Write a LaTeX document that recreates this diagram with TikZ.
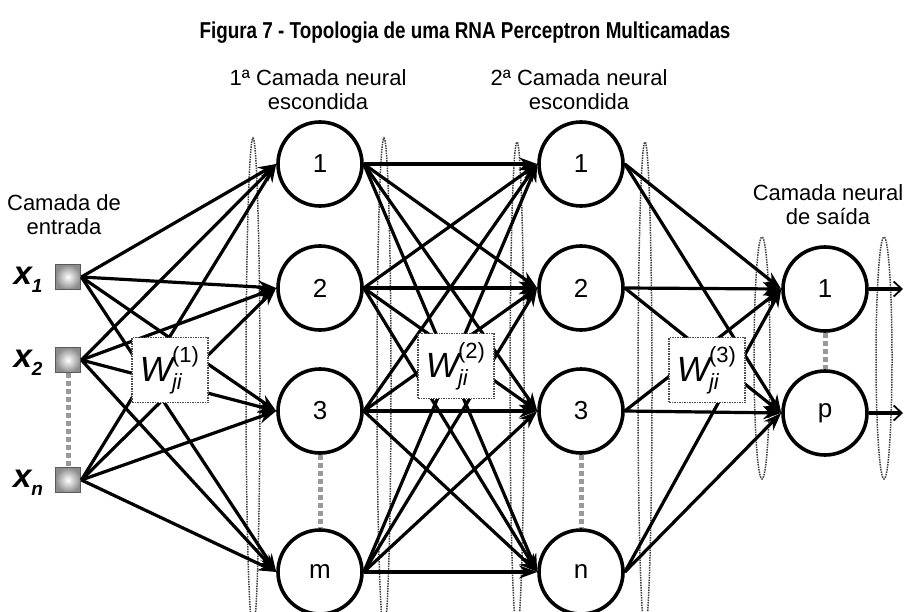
\documentclass[tikz,border=0pt]{standalone}
\usepackage{fontspec}
\setmainfont{Liberation Sans}
\usetikzlibrary{arrows.meta}
\newcommand{\wlab}[1]{\fontsize{35}{35}\selectfont\itshape W\kern-1pt\makebox[28pt][l]{\rlap{\raisebox{19pt}{\fontsize{22}{22}\selectfont\upshape(#1)}}\raisebox{-8pt}{\fontsize{22}{22}\selectfont\itshape ji}}}
\newcommand{\xlab}[1]{x\raisebox{-8pt}{\fontsize{19}{19}\selectfont #1}}
\begin{document}
\begin{tikzpicture}[x=1pt,y=-1pt]
\tikzset{
 neuron/.style={circle, draw=black, line width=3.6pt, minimum size=84pt, inner sep=0pt, fill=white, font=\fontsize{26}{26}\selectfont},
 inp/.style={rectangle, draw=black!65, line width=1.8pt, minimum size=25pt, inner sep=0pt, inner color=white, outer color=black!45},
 conn/.style={line width=3.2pt, -{Stealth[length=18pt,width=13pt]}},
 outarrow/.style={line width=3.2pt, -{Straight Barb[length=8pt,width=15pt,line width=1.8pt]}},
 wbox/.style={draw=black!70, densely dotted, line width=1.5pt, fill=white, minimum width=76pt, minimum height=65pt, inner sep=0pt},
 layerell/.style={draw=black!75, densely dotted, line width=1.5pt},
 gapline/.style={draw=black!40, line width=5pt, dash pattern=on 5pt off 3pt},
 lbl/.style={font=\fontsize{22}{24}\selectfont, align=center, inner sep=0pt},
 xlbl/.style={font=\fontsize{33}{33}\selectfont\bfseries\itshape, inner sep=0pt},
 ttl/.style={font=\fontsize{23}{23}\selectfont\bfseries, inner sep=0pt}
}
\clip (0,0) rectangle (904,612);
\fill[white] (0,0) rectangle (904,612);

% title
\node[ttl] (title) at (465,33) {\scalebox{0.82}[1]{Figura 7 - Topologia de uma RNA Perceptron Multicamadas}};

% layer labels
\node[lbl] (lab0) at (64,215) {Camada de\\entrada};
\node[lbl] (lab1) at (318,90) {1ª Camada neural\\escondida};
\node[lbl] (lab2) at (579,90) {2ª Camada neural\\escondida};
\node[lbl] (lab3) at (828,205) {Camada neural\\de saída};

% dotted layer ellipses
\draw[layerell] (253,384) ellipse [x radius=7pt, y radius=246pt];
\draw[layerell] (384,384) ellipse [x radius=7pt, y radius=246pt];
\draw[layerell] (517,386) ellipse [x radius=7pt, y radius=244pt];
\draw[layerell] (645,386) ellipse [x radius=7pt, y radius=244pt];
\draw[layerell] (762,358) ellipse [x radius=8pt, y radius=121pt];
\draw[layerell] (884,358) ellipse [x radius=8pt, y radius=121pt];

% inputs
\node[inp] (i1) at (68,277) {};
\node[inp] (i2) at (68,360) {};
\node[inp] (in) at (68,480) {};
\node[xlbl] (lx1) at (28,280) {\xlab{1}};
\node[xlbl] (lx2) at (28,363) {\xlab{2}};
\node[xlbl] (lxn) at (28,483) {\xlab{n}};

% hidden layer 1
\node[neuron] (h1a) at (320,164) {1};
\node[neuron] (h1b) at (320,288) {2};
\node[neuron] (h1c) at (320,411) {3};
\node[neuron] (h1m) at (320,572) {m};
% hidden layer 2
\node[neuron] (h2a) at (581,164) {1};
\node[neuron] (h2b) at (581,288) {2};
\node[neuron] (h2c) at (581,411) {3};
\node[neuron] (h2n) at (581,572) {n};
% output layer
\node[neuron] (o1) at (825,289) {1};
\node[neuron] (op) at (825,413) {p};

% gap markers
\draw[gapline] (i2.south) -- (in.north);
\draw[gapline] (h1c.south) -- (h1m.north);
\draw[gapline] (h2c.south) -- (h2n.north);
\draw[gapline] (o1.south) -- (op.north);

% connections
\foreach \s in {i1,i2,in}
  \foreach \t in {h1a,h1b,h1c,h1m}
    \draw[conn] (\s.east) -- (\t.west);
\foreach \s in {h1a,h1b,h1c,h1m}
  \foreach \t in {h2a,h2b,h2c,h2n}
    \draw[conn] (\s.east) -- (\t.west);
\foreach \s in {h2a,h2b,h2c,h2n}
  \foreach \t in {o1,op}
    \draw[conn] (\s.east) -- (\t.west);

% outputs
\coordinate (y1) at (903,289);
\coordinate (yp) at (903,413);
\draw[outarrow] (o1.east) -- (y1);
\draw[outarrow] (op.east) -- (yp);

% weight boxes
\node[wbox] (w1) at (170,370) {\wlab{1}};
\node[wbox] (w2) at (456,366) {\wlab{2}};
\node[wbox] (w3) at (707,370) {\wlab{3}};
\end{tikzpicture}
\end{document}
